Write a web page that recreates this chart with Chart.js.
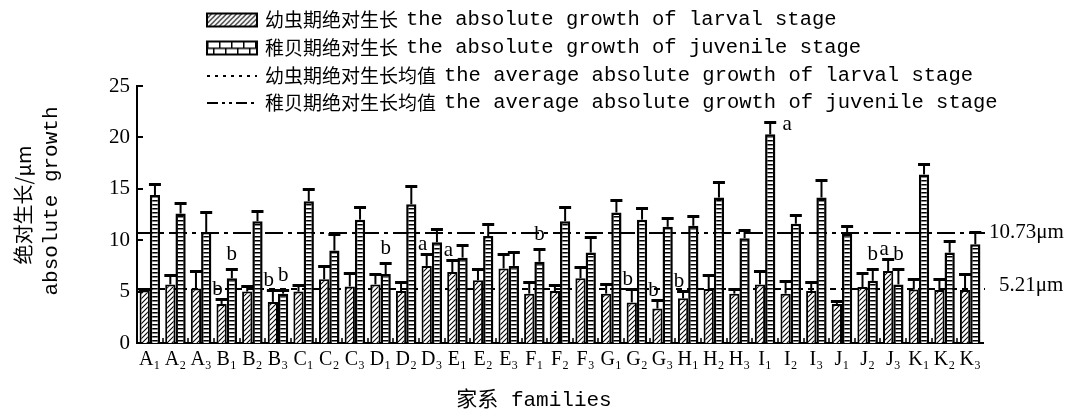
<!DOCTYPE html>
<html lang="zh-CN">
<head>
  <meta charset="UTF-8">
  <title>家系绝对生长</title>
  <script src="https://cdn.jsdelivr.net/npm/chart.js"></script>
  <style>
    body { margin: 0; background: #fff; }
    canvas { display: block; }
  </style>
</head>
<body>
  <canvas id="grafico" width="1092" height="414"></canvas>

  <script>
    // families (x axis)
    const familias = ['A₁', 'A₂', 'A₃', 'B₁', 'B₂', 'B₃', 'C₁', 'C₂', 'C₃', 'D₁', 'D₂', 'D₃',
      'E₁', 'E₂', 'E₃', 'F₁', 'F₂', 'F₃', 'G₁', 'G₂', 'G₃', 'H₁', 'H₂', 'H₃',
      'I₁', 'I₂', 'I₃', 'J₁', 'J₂', 'J₃', 'K₁', 'K₂', 'K₃'];

    // larval stage absolute growth (µm) and its SD
    const larval = [5.1, 5.7, 5.3, 3.8, 5.0, 4.0, 5.0, 6.2, 5.5, 5.7, 5.05, 7.5,
      6.9, 6.1, 7.25, 4.8, 5.05, 6.3, 4.8, 3.95, 3.35, 4.35, 5.25, 4.8,
      5.7, 4.8, 5.05, 3.8, 5.45, 7.0, 5.2, 5.15, 5.15];
    const larvalSd = [0.15, 0.9, 1.7, 0.5, 0.5, 1.15, 0.6, 1.3, 1.3, 1.0, 0.85, 1.2,
      1.2, 1.1, 1.4, 1.1, 0.55, 1.05, 0.9, 1.3, 0.85, 0.75, 1.35, 0.5,
      1.3, 1.2, 0.85, 0.3, 1.35, 1.2, 1.0, 1.05, 1.55];

    // juvenile stage absolute growth (µm) and its SD
    const juvenile = [14.4, 12.6, 10.8, 6.3, 11.85, 4.8, 13.8, 9.0, 12.0, 6.7, 13.5, 9.8,
      8.3, 10.4, 7.5, 7.9, 11.85, 8.8, 12.7, 12.0, 11.3, 11.4, 14.15, 10.2,
      20.3, 11.6, 14.15, 10.6, 6.05, 5.7, 16.4, 8.8, 9.6];
    const juvenileSd = [1.05, 1.0, 1.9, 0.9, 0.95, 0.4, 1.2, 1.6, 1.25, 1.05, 1.75, 1.25,
      1.2, 1.15, 1.4, 1.2, 1.4, 1.5, 1.25, 1.1, 0.9, 0.95, 1.55, 0.8,
      1.15, 0.9, 1.7, 0.8, 1.15, 1.5, 1.05, 1.1, 1.15];

    // significance letters
    const larvalMarks = ['', '', '', 'b', '', 'b', '', '', '', '', '', 'a',
      'a', '', '', '', '', '', '', 'b', 'b', 'b', '', '',
      '', '', '', '', '', 'a', '', '', ''];
    const juvenileMarks = ['', '', '', 'b', '', 'b', '', '', '', 'b', '', '',
      '', '', '', 'b', '', '', '', '', '', '', '', '',
      'a', '', '', '', 'b', 'b', '', '', ''];

    const larvalMean = 5.21;
    const juvenileMean = 10.73;
    const yTicks = [0, 5, 10, 15, 20, 25];

    const legendLabels = [
      '幼虫期绝对生长 the absolute growth of larval stage',
      '稚贝期绝对生长 the absolute growth of juvenile stage',
      '幼虫期绝对生长均值 the average absolute growth of larval stage',
      '稚贝期绝对生长均值 the average absolute growth of juvenile stage'
    ];

    // fill patterns
    function hatchPattern() {
      const c = document.createElement('canvas');
      c.width = 5; c.height = 5;
      const g = c.getContext('2d');
      g.fillStyle = '#fff'; g.fillRect(0, 0, 5, 5);
      g.strokeStyle = '#000'; g.lineWidth = 1.1;
      g.beginPath();
      g.moveTo(-1, 6); g.lineTo(6, -1);
      g.moveTo(-1, 1); g.lineTo(1, -1);
      g.moveTo(4, 6); g.lineTo(6, 4);
      g.stroke();
      return g.createPattern(c, 'repeat');
    }

    function ladderPattern() {
      const c = document.createElement('canvas');
      c.width = 4; c.height = 4;
      const g = c.getContext('2d');
      g.fillStyle = '#fff'; g.fillRect(0, 0, 4, 4);
      g.fillStyle = '#000'; g.fillRect(0, 0, 4, 1.5);
      return g.createPattern(c, 'repeat');
    }

    function brickPattern() {
      const c = document.createElement('canvas');
      c.width = 12; c.height = 13;
      const g = c.getContext('2d');
      g.fillStyle = '#fff'; g.fillRect(0, 0, 12, 13);
      g.fillStyle = '#000';
      g.fillRect(0, 6, 12, 1.5);
      g.fillRect(0, 0, 1.5, 6);
      g.fillRect(6, 6, 1.5, 7);
      return g.createPattern(c, 'repeat');
    }

    const hatch = hatchPattern();
    const ladder = ladderPattern();
    const brick = brickPattern();

    const extras = {
      id: 'extras',
      beforeDatasetsDraw(chart) {
        const { ctx, chartArea: a, scales: { y } } = chart;
        ctx.save();
        ctx.strokeStyle = '#000';
        ctx.lineWidth = 2;
        [[larvalMean, [6, 5]], [juvenileMean, [18, 5, 4, 5]]].forEach(([v, dash]) => {
          const py = Math.round(y.getPixelForValue(v));
          ctx.setLineDash(dash);
          ctx.beginPath();
          ctx.moveTo(a.left, py);
          ctx.lineTo(a.right + 2, py);
          ctx.stroke();
        });
        ctx.restore();
      },
      afterDatasetsDraw(chart) {
        const { ctx, chartArea: a, scales: { x, y } } = chart;
        ctx.save();
        ctx.strokeStyle = '#000';
        ctx.fillStyle = '#000';

        // error bars (upper only) + letters
        const sets = [[larvalSd, larvalMarks, -4, 10], [juvenileSd, juvenileMarks, 0, 15]];
        sets.forEach(([sd, marks, dx, off], di) => {
          const vals = chart.data.datasets[di].data;
          chart.getDatasetMeta(di).data.forEach((bar, i) => {
            const top = Math.round(y.getPixelForValue(vals[i] + sd[i])) + 0.5;
            ctx.lineWidth = 2;
            ctx.beginPath();
            ctx.moveTo(bar.x, bar.y);
            ctx.lineTo(bar.x, top);
            ctx.stroke();
            ctx.lineWidth = 3;
            ctx.beginPath();
            ctx.moveTo(bar.x - 6, top);
            ctx.lineTo(bar.x + 6, top);
            ctx.stroke();

            if (marks[i]) {
              ctx.font = "21px 'Liberation Serif'";
              ctx.textAlign = 'center';
              ctx.textBaseline = 'middle';
              if (top - off < a.top + 45) {
                ctx.fillText(marks[i], bar.x + 17, top + 2);
              } else {
                ctx.fillText(marks[i], bar.x + dx, top - off);
              }
            }
          });
        });

        // inward ticks
        ctx.lineWidth = 2;
        yTicks.forEach(v => {
          const py = Math.round(y.getPixelForValue(v));
          ctx.beginPath();
          ctx.moveTo(a.left, py);
          ctx.lineTo(a.left + 6, py);
          ctx.stroke();
        });
        const step = x.getPixelForValue(1) - x.getPixelForValue(0);
        ctx.lineWidth = 1.5;
        for (let i = 1; i < familias.length; i++) {
          const px = Math.round(x.getPixelForValue(i) - step / 2);
          ctx.beginPath();
          ctx.moveTo(px, a.bottom);
          ctx.lineTo(px, a.bottom - 5);
          ctx.stroke();
        }

        // mean value labels
        ctx.font = "21px 'Liberation Serif'";
        ctx.textAlign = 'left';
        ctx.textBaseline = 'middle';
        ctx.fillText('10.73μm', a.right + 6, y.getPixelForValue(juvenileMean));
        ctx.fillText('5.21μm', a.right + 16, y.getPixelForValue(larvalMean) - 4);
        ctx.restore();
      },
      afterDraw(chart) {
        const ctx = chart.ctx;
        ctx.save();
        ctx.fillStyle = '#000';
        ctx.strokeStyle = '#000';

        // legend
        const rows = [20, 48, 76, 103];
        const sx = 207, sw = 50;
        ctx.lineWidth = 2;
        [hatch, brick].forEach((pat, k) => {
          ctx.save();
          ctx.translate(sx, rows[k] - 6.5);
          ctx.fillStyle = pat;
          ctx.fillRect(0, 0, sw, 13);
          ctx.strokeRect(0, 0, sw, 13);
          ctx.restore();
        });
        [[3, 5], [11, 4, 3, 4, 3, 4]].forEach((dash, k) => {
          ctx.setLineDash(dash);
          ctx.beginPath();
          ctx.moveTo(sx, rows[k + 2]);
          ctx.lineTo(sx + sw, rows[k + 2]);
          ctx.stroke();
        });
        ctx.setLineDash([]);
        ctx.textAlign = 'left';
        ctx.textBaseline = 'middle';
        legendLabels.forEach((t, k) => {
          const cut = t.indexOf(' ');
          const zh = t.slice(0, cut);
          ctx.font = "19px 'Noto Sans CJK SC'";
          ctx.fillText(zh, 265, rows[k]);
          const w = ctx.measureText(zh).width;
          ctx.font = "20.5px 'Liberation Mono'";
          ctx.fillText(t.slice(cut + 1), 265 + w + 8, rows[k]);
        });

        // axis titles
        ctx.textAlign = 'center';
        ctx.save();
        ctx.translate(23, 205);
        ctx.rotate(-Math.PI / 2);
        ctx.font = "20px 'Noto Sans CJK SC'";
        ctx.fillText('绝对生长/μm', 0, 0);
        ctx.restore();
        ctx.save();
        ctx.translate(51, 201);
        ctx.rotate(-Math.PI / 2);
        ctx.font = "21px 'Liberation Mono'";
        ctx.fillText('absolute growth', 0, 0);
        ctx.restore();
        ctx.font = "21px 'Liberation Mono', 'Noto Sans CJK SC'";
        ctx.fillText('家系 families', 534, 400);
        ctx.restore();
      }
    };

    new Chart(document.getElementById('grafico'), {
      type: 'bar',
      data: {
        labels: familias,
        datasets: [{
          label: legendLabels[0],
          data: larval,
          backgroundColor: hatch,
          borderColor: '#000',
          borderWidth: 2,
          categoryPercentage: 0.8,
          barPercentage: 1
        }, {
          label: legendLabels[1],
          data: juvenile,
          backgroundColor: ladder,
          borderColor: '#000',
          borderWidth: 2.5,
          categoryPercentage: 0.8,
          barPercentage: 1
        }]
      },
      options: {
        responsive: false,
        animation: false,
        devicePixelRatio: 1,
        layout: { padding: { top: 86, right: 109, left: 0, bottom: 0 } },
        plugins: { legend: { display: false }, tooltip: { enabled: false } },
        scales: {
          x: {
            grid: { display: false, drawTicks: false },
            border: { color: '#000', width: 2 },
            ticks: {
              color: '#000',
              font: { family: 'Liberation Serif', size: 20 },
              padding: 5,
              maxRotation: 0,
              autoSkip: false
            },
            afterFit(s) { s.height = 71; }
          },
          y: {
            min: 0,
            max: 25,
            grid: { display: false, drawTicks: false },
            border: { color: '#000', width: 2 },
            ticks: {
              color: '#000',
              font: { family: 'Liberation Serif', size: 21 },
              padding: 7
            },
            afterBuildTicks(s) { s.ticks = yTicks.map(v => ({ value: v })); },
            afterFit(s) { s.width = 137; }
          }
        }
      },
      plugins: [extras]
    });
  </script>
</body>
</html>
